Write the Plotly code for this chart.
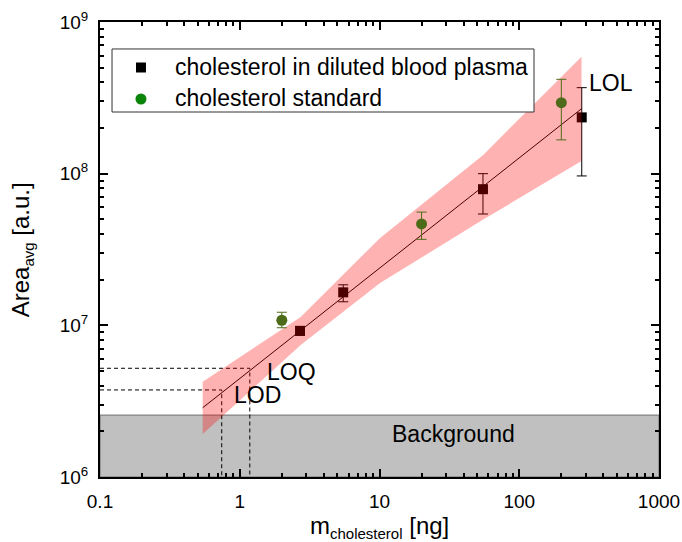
import math
import plotly.graph_objects as go

# ---- data ----
plasma_x = [2.7, 5.5, 55, 280]
plasma_y = [9.2e6, 1.65e7, 7.9e7, 2.35e8]
plasma_hi = [9.8e6, 1.85e7, 1.0e8, 3.69e8]
plasma_lo = [8.6e6, 1.43e7, 5.42e7, 9.66e7]

std_x = [2, 20, 200]
std_y = [1.08e7, 4.66e7, 2.94e8]
std_hi = [1.22e7, 5.58e7, 4.19e8]
std_lo = [9.64e6, 3.69e7, 1.67e8]

fit_x = [0.543, 279]
fit_y = [2.86e6, 2.68e8]

band_x = [0.543, 2.73, 10.1, 55.2, 279]
band_upper = [4.25e6, 1.135e7, 3.77e7, 1.33e8, 5.9e8]
band_lower = [1.92e6, 7.41e6, 1.90e7, 4.98e7, 1.21e8]

background_level = 2.56e6
lod_x, lod_y = 0.743, 3.75e6
loq_x, loq_y = 1.18, 5.21e6

x_ticks = [0.1, 1, 10, 100, 1000]
x_ticklabels = ["0.1", "1", "10", "100", "1000"]
y_ticks = [1e6, 1e7, 1e8, 1e9]
y_ticklabels = ["10<sup>6</sup>", "10<sup>7</sup>", "10<sup>8</sup>", "10<sup>9</sup>"]

legend_names = ["cholesterol in diluted blood plasma", "cholesterol standard"]

x_range = [0.1, 1000]
y_range = [1e6, 1e9]

FONT = "Liberation Sans, Arial, sans-serif"
OLIVE = "#4d6b19"
LEG_GREEN = "#0a850a"

fig = go.Figure()

# background region
fig.add_trace(go.Scatter(
    x=[x_range[0], x_range[1], x_range[1], x_range[0], x_range[0]],
    y=[y_range[0], y_range[0], background_level, background_level, y_range[0]],
    mode="lines", fill="toself", fillcolor="#c0c0c0",
    line=dict(color="#6e6e6e", width=1), showlegend=False, hoverinfo="skip"))

# LOD / LOQ dashed guides
for gx, gy in [(lod_x, lod_y), (loq_x, loq_y)]:
    fig.add_trace(go.Scatter(
        x=[x_range[0], gx, gx], y=[gy, gy, y_range[0]],
        mode="lines", line=dict(color="black", width=1, dash="4px,3px"),
        showlegend=False, hoverinfo="skip"))

# fit line
fig.add_trace(go.Scatter(x=fit_x, y=fit_y, mode="lines",
                         line=dict(color="black", width=1),
                         showlegend=False, hoverinfo="skip"))

# plasma points
fig.add_trace(go.Scatter(
    x=plasma_x, y=plasma_y, mode="markers", name=legend_names[0],
    marker=dict(symbol="square", size=10, color="black"),
    error_y=dict(type="data", symmetric=False,
                 array=[h - y for h, y in zip(plasma_hi, plasma_y)],
                 arrayminus=[y - l for l, y in zip(plasma_lo, plasma_y)],
                 color="black", thickness=1, width=5),
    showlegend=False))

# confidence band (translucent)
fig.add_trace(go.Scatter(
    x=band_x + band_x[::-1], y=band_upper + band_lower[::-1],
    mode="lines", fill="toself", fillcolor="rgba(255,0,0,0.3)",
    line=dict(width=0), showlegend=False, hoverinfo="skip"))

# standard points (on top)
fig.add_trace(go.Scatter(
    x=std_x, y=std_y, mode="markers", name=legend_names[1],
    marker=dict(symbol="circle", size=11, color=OLIVE),
    error_y=dict(type="data", symmetric=False,
                 array=[h - y for h, y in zip(std_hi, std_y)],
                 arrayminus=[y - l for l, y in zip(std_lo, std_y)],
                 color=OLIVE, thickness=1, width=5),
    showlegend=False))

# ---- hand-built legend on an overlay axis (0..1 = plot area) ----
box_x0, box_x1, box_y0, box_y1 = 0.0215, 0.7764, 0.8022, 0.9407
fig.add_trace(go.Scatter(
    x=[box_x0, box_x1, box_x1, box_x0, box_x0],
    y=[box_y0, box_y0, box_y1, box_y1, box_y0],
    xaxis="x2", yaxis="y2", mode="lines", fill="toself", fillcolor="white",
    line=dict(color="#333333", width=1), showlegend=False, hoverinfo="skip"))
leg_marker_x = 0.0733
leg_rows_y = [0.9000, 0.8308]
fig.add_trace(go.Scatter(
    x=[leg_marker_x], y=[leg_rows_y[0]], xaxis="x2", yaxis="y2", mode="markers",
    marker=dict(symbol="square", size=10, color="black"),
    showlegend=False, hoverinfo="skip"))
fig.add_trace(go.Scatter(
    x=[leg_marker_x], y=[leg_rows_y[1]], xaxis="x2", yaxis="y2", mode="markers",
    marker=dict(symbol="circle", size=11, color=LEG_GREEN),
    showlegend=False, hoverinfo="skip"))

annotations = []
for name, ly in zip(legend_names, leg_rows_y):
    annotations.append(dict(
        xref="x2", yref="y2", x=0.1306, y=ly + 0.002, xanchor="left",
        yanchor="middle", showarrow=False, text=name,
        font=dict(family=FONT, size=23, color="black")))

labels = [
    dict(x=math.log10(454), y=math.log10(3.96e8), text="LOL"),
    dict(x=math.log10(2.33), y=6.692, text="LOQ"),
    dict(x=math.log10(1.33), y=6.541, text="LOD"),
    dict(x=math.log10(33.6), y=6.284, text="Background"),
]
for a in labels:
    a.update(xref="x", yref="y", showarrow=False,
             font=dict(family=FONT, size=23, color="black"))
annotations += labels

# axis titles
annotations.append(dict(
    xref="paper", yref="paper", x=0.5, y=-0.11,
    xanchor="center", yanchor="middle", showarrow=False,
    text="m<sub><span style='font-size:15px'>cholesterol</span></sub> [ng]",
    font=dict(family=FONT, size=24, color="black")))
annotations.append(dict(
    xref="paper", yref="paper", x=-0.14, y=0.5,
    xanchor="center", yanchor="middle", showarrow=False, textangle=-90,
    text="Area<sub><span style='font-size:15px'>avg</span></sub> [a.u.]",
    font=dict(family=FONT, size=24, color="black")))

minor_x = [m * 10 ** k for k in range(-1, 3) for m in range(2, 10)]
minor_y = [m * 10 ** k for k in range(6, 9) for m in range(2, 10)]

axis_common = dict(
    showgrid=False, zeroline=False, showline=True, linecolor="black",
    linewidth=2, mirror="allticks", ticks="inside", ticklen=8, tickwidth=1.5,
    tickcolor="black", tickfont=dict(family=FONT, size=19, color="black"),
    automargin=False, ticklabelstandoff=6,
)

fig.update_layout(
    width=682, height=542,
    margin=dict(l=100, r=23, t=22, b=65),
    paper_bgcolor="white", plot_bgcolor="white",
    font=dict(family=FONT, color="black"),
    showlegend=False,
    annotations=annotations,
    xaxis2=dict(overlaying="x", range=[0, 1], visible=False, fixedrange=True),
    yaxis2=dict(overlaying="y", range=[0, 1], visible=False, fixedrange=True),
)
fig.update_xaxes(selector=dict(anchor="y"))
fig.update_layout(
    xaxis=dict(type="log", range=[math.log10(x_range[0]), math.log10(x_range[1])],
               tickvals=x_ticks, ticktext=x_ticklabels,
               minor=dict(tickvals=minor_x, ticks="inside", ticklen=4,
                          tickwidth=1.5, tickcolor="black"),
               **axis_common),
    yaxis=dict(type="log", range=[math.log10(y_range[0]), math.log10(y_range[1])],
               tickvals=y_ticks, ticktext=y_ticklabels,
               minor=dict(tickvals=minor_y, ticks="inside", ticklen=4,
                          tickwidth=1.5, tickcolor="black"),
               **axis_common),
)

fig.write_html("out.html")
